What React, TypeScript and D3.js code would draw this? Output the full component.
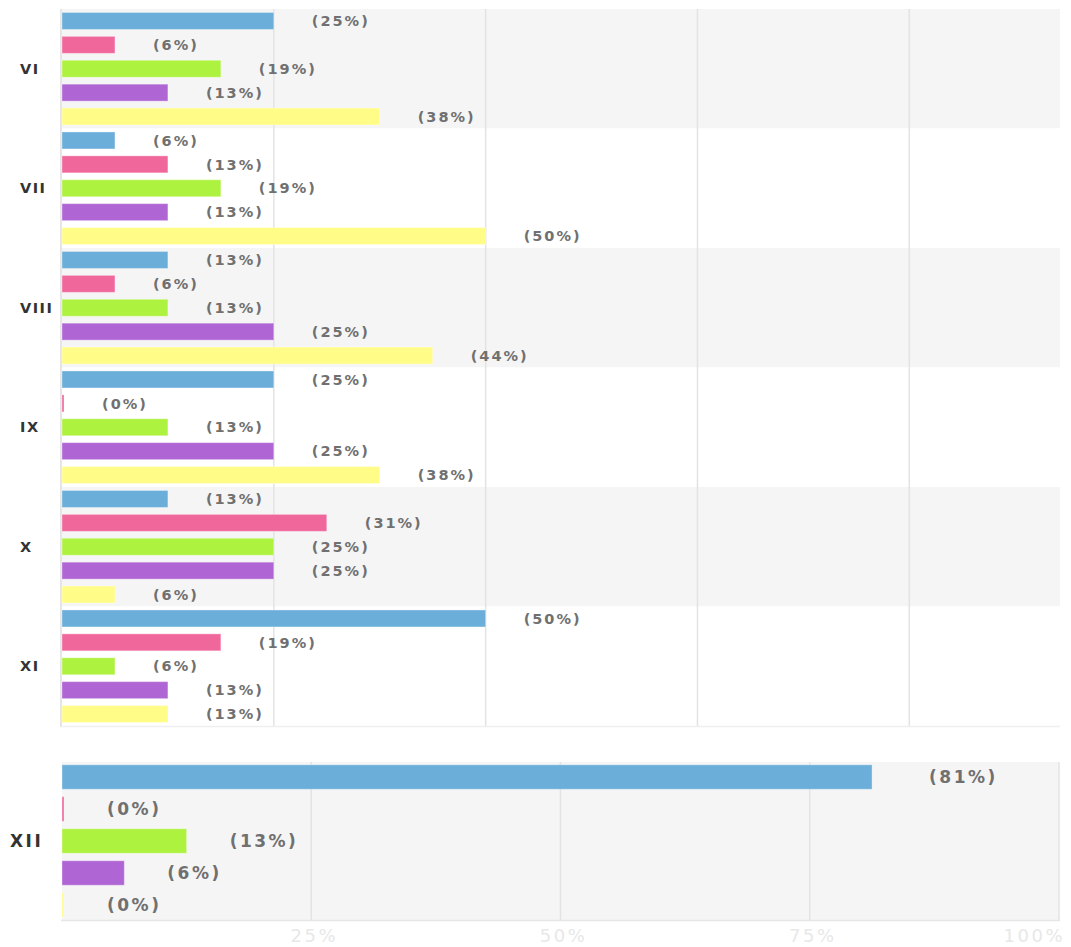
import React from "react";
import * as d3 from "d3";

const categories = ["VI", "VII", "VIII", "IX", "X", "XI"];
const bottomCategory = "XII";
const seriesNames = ["s1", "s2", "s3", "s4", "s5"];
const seriesColors = ["#6aaed9", "#f0679c", "#adf23f", "#b065d4", "#fffc87"];

// percent values per category (series order: blue, pink, green, purple, yellow)
const valuesVI = [25, 6.25, 18.75, 12.5, 37.5];
const valuesVII = [6.25, 12.5, 18.75, 12.5, 50];
const valuesVIII = [12.5, 6.25, 12.5, 25, 43.75];
const valuesIX = [25, 0, 12.5, 25, 37.5];
const valuesX = [12.5, 31.25, 25, 25, 6.25];
const valuesXI = [50, 18.75, 6.25, 12.5, 12.5];
const valuesXII = [81.25, 0, 12.5, 6.25, 0];

const topValues = [valuesVI, valuesVII, valuesVIII, valuesIX, valuesX, valuesXI];
const tickValues = [0, 25, 50, 75, 100];
const tickLabels = ["", "25%", "50%", "75%", "100%"];

const W = 1071;
const H = 947;

export default function App() {
  // top panel
  const xTop = d3.scaleLinear().domain([0, 100]).range([62, 909.3]);
  const yTop = d3.scaleBand<string>().domain(categories).range([9, 726]);
  const innerTop = d3
    .scaleBand<string>()
    .domain(seriesNames)
    .range([0, yTop.bandwidth()])
    .paddingInner(0.289)
    .paddingOuter(0.145);

  // bottom panel
  const xBot = d3.scaleLinear().domain([0, 100]).range([62, 1059]);
  const yBot = d3.scaleBand<string>().domain([bottomCategory]).range([762, 920]);
  const innerBot = d3
    .scaleBand<string>()
    .domain(seriesNames)
    .range([0, yBot.bandwidth()])
    .paddingInner(0.234)
    .paddingOuter(0.087);

  const fmt = (v: number) => `(${Math.round(v)}%)`;
  const labelFont = "'DejaVu Sans', Verdana, sans-serif";

  return (
    <svg
      width={W}
      height={H}
      style={{ position: "absolute", left: 0, top: 0, background: "#fff" }}
      fontFamily={labelFont}
    >
      {/* top panel bands */}
      {categories.map((c, i) => (
        <rect
          key={"band" + c}
          x={62}
          y={yTop(c)}
          width={1060 - 62}
          height={yTop.bandwidth()}
          fill={i % 2 === 0 ? "#f5f5f5" : "#ffffff"}
        />
      ))}
      {/* top gridlines */}
      {tickValues.slice(1).map((t) => (
        <line
          key={"gt" + t}
          x1={xTop(t)}
          x2={xTop(t)}
          y1={9}
          y2={726}
          stroke="#e3e3e3"
          strokeWidth={1.5}
        />
      ))}
      <line x1={61} x2={61} y1={9} y2={727} stroke="#dcdcdc" strokeWidth={1.5} />
      <line x1={61} x2={1060} y1={726.5} y2={726.5} stroke="#efefef" strokeWidth={1.5} />

      {/* top bars */}
      {categories.map((c, ci) => (
        <g key={"g" + c}>
          <text
            x={20}
            y={(yTop(c) as number) + yTop.bandwidth() / 2}
            dy="0.36em"
            fontSize={14.5}
            fontWeight="bold"
            fill="#333333"
            letterSpacing={1.5}
          >
            {c}
          </text>
          {seriesNames.map((s, si) => {
            const v = topValues[ci][si];
            const y0 = (yTop(c) as number) + (innerTop(s) as number);
            const w = Math.max(2, xTop(v) - xTop(0));
            return (
              <g key={s}>
                <rect
                  x={xTop(0)}
                  y={y0}
                  width={w}
                  height={innerTop.bandwidth()}
                  fill={seriesColors[si]}
                  stroke="#ffffff"
                  strokeOpacity={0.35}
                  strokeWidth={1}
                />
                <text
                  x={xTop(0) + w + 38}
                  y={y0 + innerTop.bandwidth() / 2}
                  dy="0.36em"
                  fontSize={14.5}
                  fontWeight="bold"
                  fill="#707070"
                  letterSpacing={2}
                >
                  {fmt(v)}
                </text>
              </g>
            );
          })}
        </g>
      ))}

      {/* bottom panel */}
      <rect
        x={62}
        y={yBot(bottomCategory)}
        width={1059 - 62}
        height={yBot.bandwidth()}
        fill="#f5f5f5"
      />
      {tickValues.slice(1).map((t) => (
        <line
          key={"gb" + t}
          x1={xBot(t)}
          x2={xBot(t)}
          y1={762}
          y2={920}
          stroke="#e3e3e3"
          strokeWidth={1.5}
        />
      ))}
      <line x1={61} x2={1060} y1={920.5} y2={920.5} stroke="#e6e6e6" strokeWidth={1.5} />
      <text
        x={10}
        y={(yBot(bottomCategory) as number) + yBot.bandwidth() / 2}
        dy="0.36em"
        fontSize={17}
        fontWeight="bold"
        fill="#333333"
        letterSpacing={2.5}
      >
        {bottomCategory}
      </text>
      {seriesNames.map((s, si) => {
        const v = valuesXII[si];
        const y0 = (yBot(bottomCategory) as number) + (innerBot(s) as number);
        const w = Math.max(2, xBot(v) - xBot(0));
        return (
          <g key={"b" + s}>
            <rect
              x={xBot(0)}
              y={y0}
              width={w}
              height={innerBot.bandwidth()}
              fill={seriesColors[si]}
              stroke="#ffffff"
              strokeOpacity={0.35}
              strokeWidth={1}
            />
            <text
              x={xBot(0) + w + (v > 50 ? 57 : 43)}
              y={y0 + innerBot.bandwidth() / 2}
              dy="0.36em"
              fontSize={17}
              fontWeight="bold"
              fill="#707070"
              letterSpacing={2.5}
            >
              {fmt(v)}
            </text>
          </g>
        );
      })}
      {/* bottom axis tick labels */}
      {tickValues.map((t, i) =>
        tickLabels[i] ? (
          <text
            key={"tl" + t}
            x={t === 100 ? xBot(t) + 6 : xBot(t) + 3}
            y={942}
            textAnchor={t === 100 ? "end" : "middle"}
            fontSize={18}
            fill="#e8e8e8"
            letterSpacing={2.5}
          >
            {tickLabels[i]}
          </text>
        ) : null
      )}
    </svg>
  );
}
